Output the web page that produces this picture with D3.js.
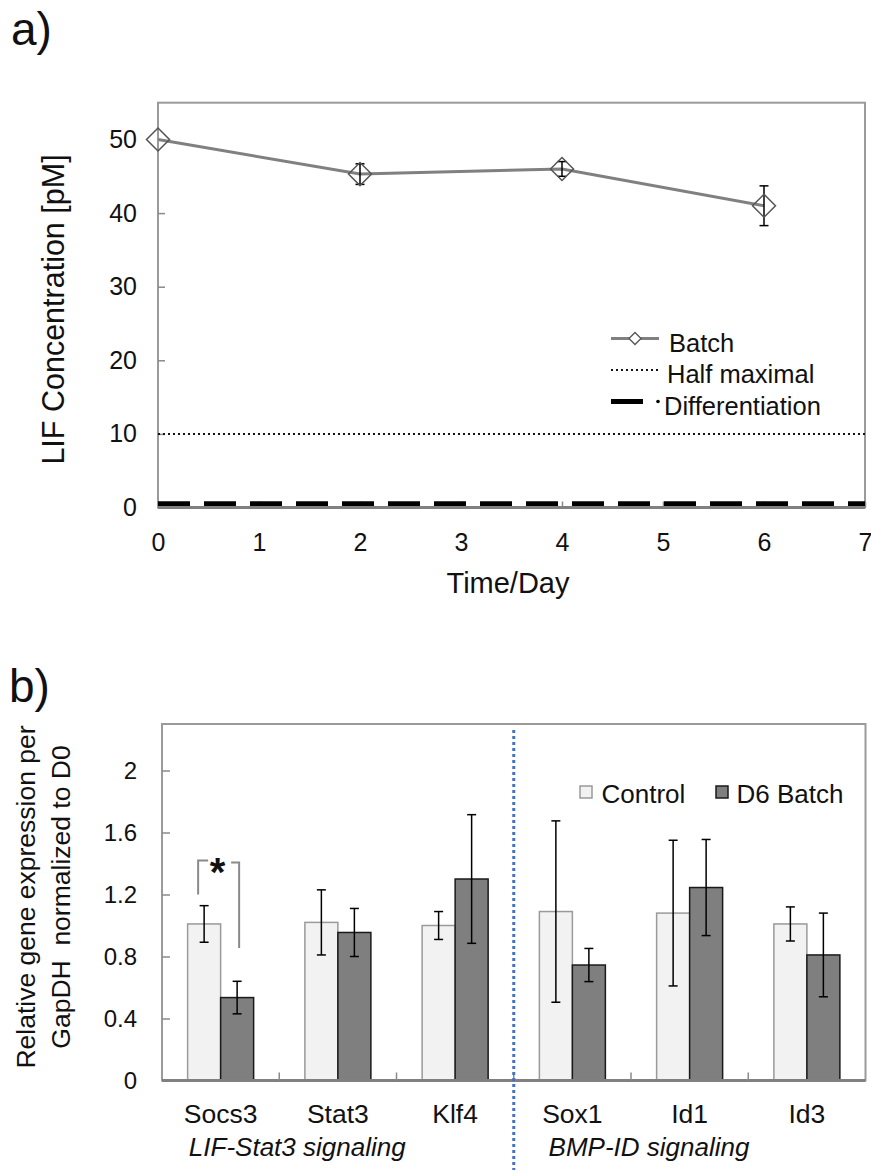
<!DOCTYPE html>
<html>
<head>
<meta charset="utf-8">
<script src="https://cdn.jsdelivr.net/npm/d3@7"></script>
<style>
  html, body { margin: 0; padding: 0; background: #fff; }
  svg { display: block; font-family: "Liberation Sans", Arial, Helvetica, sans-serif; }
</style>
</head>
<body>
<svg id="chart" width="871" height="1174"></svg>
<script>
// ---------- Panel a data ----------
const days = [0, 2, 4, 6];
const lifConc = [50.0, 45.3, 46.0, 41.0];
const lifErr = [0, 1.4, 1.0, 2.7];
const halfMaximal = 10;
const differentiation = 0.5;
const xTicksA = [0, 1, 2, 3, 4, 5, 6, 7];
const yTicksA = [0, 10, 20, 30, 40, 50];
const legendA = ["Batch", "Half maximal", "Differentiation"];

// ---------- Panel b data ----------
const genes = ["Socs3", "Stat3", "Klf4", "Sox1", "Id1", "Id3"];
const controlVals = [1.01, 1.02, 1.00, 1.09, 1.08, 1.01];
const controlErr = [0.118, 0.21, 0.09, 0.585, 0.47, 0.11];
const batchVals = [0.535, 0.955, 1.30, 0.745, 1.245, 0.81];
const batchErr = [0.105, 0.155, 0.415, 0.107, 0.31, 0.27];
const yTicksB = [0, 0.4, 0.8, 1.2, 1.6, 2];
const seriesNames = ["Control", "D6 Batch"];
const groupLabels = ["LIF-Stat3 signaling", "BMP-ID signaling"];
const groupStart = [0, 3];

const svg = d3.select("#chart");
const FONT = "'Liberation Sans', Arial, Helvetica, sans-serif";

// ================= Panel a =================
const A = { left: 158, right: 865, top: 102.7, bottom: 507.5 };
const xA = d3.scaleLinear().domain([0, 7]).range([A.left, A.right]);
const yA = d3.scaleLinear().domain([0, 55]).range([A.bottom, A.top]);
const gA = svg.append("g");

svg.append("text").attr("x", 11).attr("y", 45).attr("font-size", 46).attr("fill", "#111").text("a)");

// frame
gA.append("rect").attr("x", A.left).attr("y", A.top).attr("width", A.right - A.left).attr("height", A.bottom - A.top)
  .attr("fill", "none").attr("stroke", "#9a9a9a").attr("stroke-width", 2);

// y axis
const yAxA = gA.append("g").attr("transform", `translate(${A.left},0)`)
  .call(d3.axisLeft(yA).tickValues(yTicksA).tickSize(-7).tickPadding(21).tickFormat(d3.format("d")));
yAxA.select(".domain").remove();
yAxA.selectAll("line").attr("stroke", "#8a8a8a").attr("stroke-width", 1.5);
yAxA.selectAll("text").attr("font-size", 25).attr("font-family", FONT).attr("fill", "#111");

// x axis
const xAxA = gA.append("g").attr("transform", `translate(0,${A.bottom})`)
  .call(d3.axisBottom(xA).tickValues(xTicksA).tickSize(-6).tickPadding(26).tickFormat(d3.format("d")));
xAxA.select(".domain").remove();
xAxA.selectAll("line").attr("stroke", "#8a8a8a").attr("stroke-width", 1.5);
xAxA.selectAll("text").attr("font-size", 25).attr("font-family", FONT).attr("fill", "#111");

// half maximal line
gA.append("line").attr("x1", A.left).attr("x2", A.right).attr("y1", yA(halfMaximal)).attr("y2", yA(halfMaximal))
  .attr("stroke", "#111").attr("stroke-width", 2).attr("stroke-dasharray", "2,3");
// differentiation line
gA.append("line").attr("x1", A.left).attr("x2", A.right).attr("y1", yA(differentiation)).attr("y2", yA(differentiation))
  .attr("stroke", "#000").attr("stroke-width", 5).attr("stroke-dasharray", "32,14");

// bottom axis line (thick)
gA.append("line").attr("x1", A.left).attr("x2", A.right).attr("y1", A.bottom).attr("y2", A.bottom)
  .attr("stroke", "#808080").attr("stroke-width", 3);

// batch line
const ptsA = days.map((d, i) => ({ x: d, y: lifConc[i], e: lifErr[i] }));
gA.append("path").datum(ptsA)
  .attr("d", d3.line().x(d => xA(d.x)).y(d => yA(d.y)))
  .attr("fill", "none").attr("stroke", "#808080").attr("stroke-width", 3);

// error bars
const ebA = gA.append("g").attr("stroke", "#000").attr("stroke-width", 1.5);
ptsA.filter(d => d.e > 0).forEach(d => {
  const cx = xA(d.x), y1 = yA(d.y + d.e), y2 = yA(d.y - d.e);
  ebA.append("line").attr("x1", cx).attr("x2", cx).attr("y1", y1).attr("y2", y2);
  ebA.append("line").attr("x1", cx - 4.5).attr("x2", cx + 4.5).attr("y1", y1).attr("y2", y1);
  ebA.append("line").attr("x1", cx - 4.5).attr("x2", cx + 4.5).attr("y1", y2).attr("y2", y2);
});

// diamond markers
const diamond = (cx, cy, r) => `M${cx},${cy - r}L${cx + r},${cy}L${cx},${cy + r}L${cx - r},${cy}Z`;
gA.selectAll(".mk").data(ptsA).enter().append("path")
  .attr("d", d => diamond(xA(d.x), yA(d.y), 11.5))
  .attr("fill", "none").attr("stroke", "#555").attr("stroke-width", 1.5);

// legend a
const lgA = gA.append("g");
const lx1 = 611, lx2 = 659, rowY = [338.5, 370, 401.5];
lgA.append("line").attr("x1", lx1).attr("x2", lx2).attr("y1", rowY[0]).attr("y2", rowY[0]).attr("stroke", "#808080").attr("stroke-width", 3);
lgA.append("path").attr("d", diamond((lx1 + lx2) / 2, rowY[0], 6)).attr("fill", "#fff").attr("stroke", "#555").attr("stroke-width", 1.3);
lgA.append("line").attr("x1", lx1).attr("x2", lx2).attr("y1", rowY[1]).attr("y2", rowY[1]).attr("stroke", "#111").attr("stroke-width", 2).attr("stroke-dasharray", "2,3");
lgA.append("line").attr("x1", lx1).attr("x2", 643).attr("y1", rowY[2]).attr("y2", rowY[2]).attr("stroke", "#000").attr("stroke-width", 5);
lgA.append("circle").attr("cx", 658).attr("cy", rowY[2]).attr("r", 1.8).attr("fill", "#000");
const legTx = [669, 667, 664];
legendA.forEach((t, i) => {
  lgA.append("text").attr("x", legTx[i]).attr("y", rowY[i] + 13.2).attr("font-size", 25.5).attr("fill", "#111").text(t);
});

// axis titles a
svg.append("text").attr("x", 508).attr("y", 593).attr("text-anchor", "middle").attr("font-size", 29).attr("fill", "#111").text("Time/Day");
svg.append("text").attr("transform", "translate(64,309.5) rotate(-90)").attr("text-anchor", "middle")
  .attr("font-size", 30.5).attr("fill", "#111").text("LIF Concentration [pM]");

// ================= Panel b =================
const B = { left: 162, right: 865.5, top: 724, bottom: 1080.5 };
const xB = d3.scaleBand().domain(genes).range([B.left, B.right]).paddingInner(0).paddingOuter(0);
const yB = d3.scaleLinear().domain([0, 2.3]).range([B.bottom, B.top]);
const gB = svg.append("g");
const barW = 33;

svg.append("text").attr("x", 9).attr("y", 702).attr("font-size", 46).attr("fill", "#111").text("b)");

// frame
gB.append("rect").attr("x", B.left).attr("y", B.top).attr("width", B.right - B.left).attr("height", B.bottom - B.top)
  .attr("fill", "none").attr("stroke", "#9a9a9a").attr("stroke-width", 2);

// y axis
const yAxB = gB.append("g").attr("transform", `translate(${B.left},0)`)
  .call(d3.axisLeft(yB).tickValues(yTicksB).tickSize(-8).tickPadding(25).tickFormat(d => d3.format("")(d)));
yAxB.select(".domain").remove();
yAxB.selectAll("line").attr("stroke", "#8a8a8a").attr("stroke-width", 1.5);
yAxB.selectAll("text").attr("font-size", 24).attr("font-family", FONT).attr("fill", "#111");

// bars
const rowsB = genes.map((g, i) => ({ g, c: controlVals[i], ce: controlErr[i], b: batchVals[i], be: batchErr[i] }));
const cx = d => xB(d.g) + xB.bandwidth() / 2;
gB.selectAll(".barC").data(rowsB).enter().append("rect")
  .attr("x", d => cx(d) - barW).attr("width", barW)
  .attr("y", d => yB(d.c)).attr("height", d => yB(0) - yB(d.c))
  .attr("fill", "#f2f2f2").attr("stroke", "#9a9a9a").attr("stroke-width", 1.5);
gB.selectAll(".barB").data(rowsB).enter().append("rect")
  .attr("x", d => cx(d)).attr("width", barW)
  .attr("y", d => yB(d.b)).attr("height", d => yB(0) - yB(d.b))
  .attr("fill", "#7f7f7f").attr("stroke", "#1a1a1a").attr("stroke-width", 1.5);

// error bars
const ebB = gB.append("g").attr("stroke", "#000").attr("stroke-width", 1.5);
rowsB.forEach(d => {
  [[cx(d) - barW / 2, d.c, d.ce], [cx(d) + barW / 2, d.b, d.be]].forEach(([x, v, e]) => {
    const y1 = yB(v + e), y2 = yB(v - e);
    ebB.append("line").attr("x1", x).attr("x2", x).attr("y1", y1).attr("y2", y2);
    ebB.append("line").attr("x1", x - 4.5).attr("x2", x + 4.5).attr("y1", y1).attr("y2", y1);
    ebB.append("line").attr("x1", x - 4.5).attr("x2", x + 4.5).attr("y1", y2).attr("y2", y2);
  });
});

// bottom axis with tick marks between categories
gB.append("line").attr("x1", B.left).attr("x2", B.right).attr("y1", B.bottom).attr("y2", B.bottom)
  .attr("stroke", "#808080").attr("stroke-width", 3);
genes.slice(1).forEach(g => {
  gB.append("line").attr("x1", xB(g)).attr("x2", xB(g)).attr("y1", B.bottom).attr("y2", B.bottom - 8)
    .attr("stroke", "#8a8a8a").attr("stroke-width", 1.5);
});

// category labels
gB.selectAll(".cat").data(genes).enter().append("text")
  .attr("x", g => xB(g) + xB.bandwidth() / 2).attr("y", 1123).attr("text-anchor", "middle")
  .attr("font-size", 26.5).attr("fill", "#111").text(g => g);

// group labels
groupLabels.forEach((t, i) => {
  const g0 = genes[groupStart[i]], g1 = genes[groupStart[i] + 1];
  const mid = (xB(g0) + xB(g1)) / 2 + xB.bandwidth() / 2 + 18;
  gB.append("text").attr("x", mid).attr("y", 1156).attr("text-anchor", "middle")
    .attr("font-size", 26).attr("font-style", "italic").attr("fill", "#111").text(t);
});

// divider
const divX = xB(genes[groupStart[1]]);
gB.append("line").attr("x1", divX).attr("x2", divX).attr("y1", 730).attr("y2", 1170)
  .attr("stroke", "#4472C4").attr("stroke-width", 3).attr("stroke-dasharray", "3,3");

// significance bracket (Socs3)
const s = rowsB[0];
const bxL = cx(s) - barW / 2 - 6, bxR = cx(s) + barW / 2 + 2;
const brY = yB(1.42);
gB.append("path")
  .attr("d", `M${bxL},${yB(1.2)}V${brY}H${bxL + 10}`)
  .attr("fill", "none").attr("stroke", "#8a8a8a").attr("stroke-width", 2);
gB.append("path")
  .attr("d", `M${bxR - 8},${brY + 2}H${bxR}V${yB(0.855)}`)
  .attr("fill", "none").attr("stroke", "#8a8a8a").attr("stroke-width", 2);
gB.append("text").attr("x", (bxL + bxR) / 2 - 1).attr("y", brY + 26).attr("text-anchor", "middle")
  .attr("font-size", 40).attr("font-weight", "bold").attr("fill", "#111").text("*");

// legend b
const lgB = gB.append("g");
lgB.append("rect").attr("x", 580).attr("y", 786).attr("width", 12).attr("height", 12).attr("fill", "#f2f2f2").attr("stroke", "#9a9a9a").attr("stroke-width", 1.5);
lgB.append("text").attr("x", 601.5).attr("y", 803).attr("font-size", 26).attr("fill", "#111").text(seriesNames[0]);
lgB.append("rect").attr("x", 716).attr("y", 786).attr("width", 12).attr("height", 12).attr("fill", "#7f7f7f").attr("stroke", "#1a1a1a").attr("stroke-width", 1.5);
lgB.append("text").attr("x", 736.5).attr("y", 803).attr("font-size", 26).attr("fill", "#111").text(seriesNames[1]);

// y title b
const yt = svg.append("text").attr("transform", "translate(0,897) rotate(-90)").attr("text-anchor", "middle")
  .attr("font-size", 26.5).attr("fill", "#111").style("white-space", "pre");
yt.append("tspan").attr("x", 0).attr("y", 35).text("Relative gene expression per");
yt.append("tspan").attr("x", 0).attr("y", 70).text("GapDH  normalized to D0");
</script>
</body>
</html>
